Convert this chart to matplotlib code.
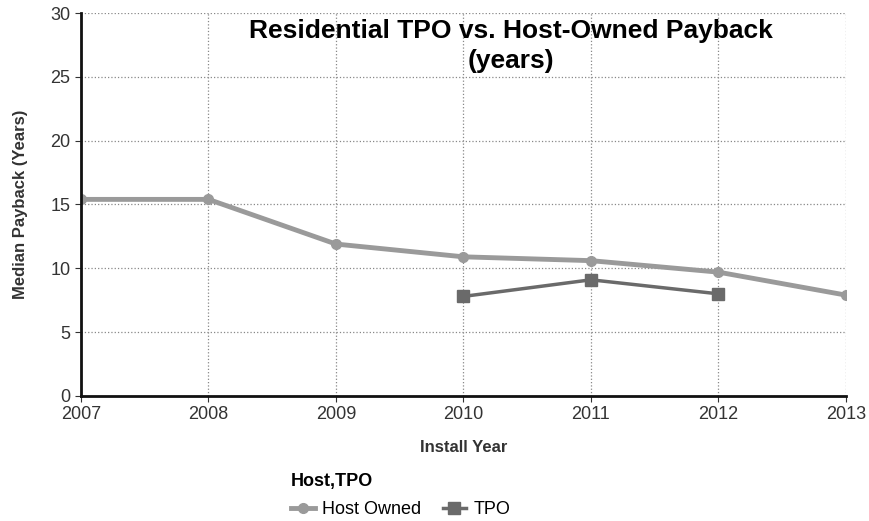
import matplotlib
matplotlib.use("Agg")
import matplotlib.pyplot as plt

years = [2007, 2008, 2009, 2010, 2011, 2012, 2013]
host_owned = [15.4, 15.4, 11.9, 10.9, 10.6, 9.7, 7.9]
tpo_years = [2010, 2011, 2012]
tpo = [7.8, 9.1, 8.0]

plt.rcParams['font.family'] = ['Liberation Sans', 'DejaVu Sans']

fig = plt.figure(figsize=(8.69, 5.21), dpi=100)
ax = fig.add_axes([0.0932, 0.24, 0.8803, 0.735])

ax.plot(years, host_owned, '-o', color='#9a9a9a', lw=3.5, ms=7, label='Host Owned')
ax.plot(tpo_years, tpo, '-s', color='#6a6a6a', lw=2.5, ms=9, label='TPO')

ax.set_xlim(2007, 2013)
ax.set_ylim(0, 30)
ax.set_xticks(years)
ax.set_yticks(range(0, 31, 5))
ax.tick_params(labelsize=13, colors='#333333', length=4)
ax.grid(True, linestyle=':', color='#888888', lw=0.9)

for side in ['top', 'right']:
    ax.spines[side].set_visible(False)
for side in ['left', 'bottom']:
    ax.spines[side].set_linewidth(2)
    ax.spines[side].set_color('#111111')

ax.set_xlabel('Install Year', fontsize=12, fontweight='bold', color='#333333', labelpad=12)
ax.set_ylabel('Median Payback (Years)', fontsize=12, fontweight='bold', color='#333333', labelpad=16)

ax.text(0.562, 0.985, 'Residential TPO vs. Host-Owned Payback\n(years)',
        transform=ax.transAxes, ha='center', va='top', fontsize=19,
        fontweight='bold', linespacing=1.35)

leg = fig.legend(loc='upper left', bbox_to_anchor=(0.335, 0.092), ncol=2,
                 frameon=False, title='Host,TPO', fontsize=13,
                 title_fontproperties={'weight': 'bold', 'size': 13},
                 alignment='left', handlelength=1.3, columnspacing=1.2,
                 borderaxespad=0, handletextpad=0.4, borderpad=0, labelspacing=0.2)
leg._legend_box.sep = 8

fig.savefig('out.png', dpi=100)
